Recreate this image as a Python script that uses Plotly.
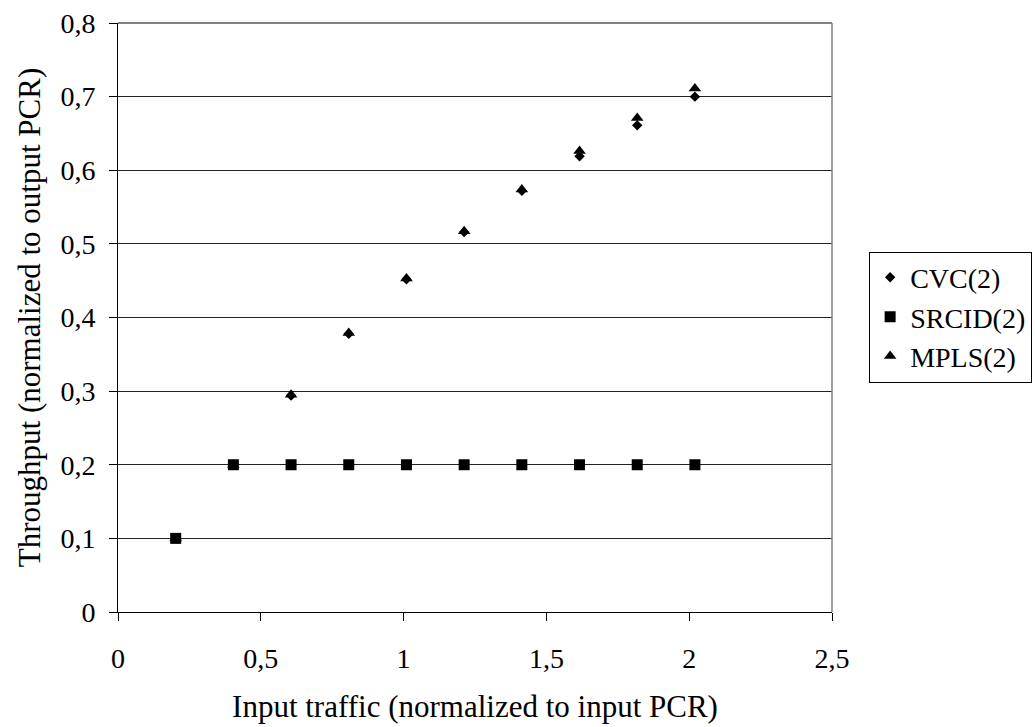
import plotly.graph_objects as go

# ---- data ----
input_traffic = [0.202, 0.404, 0.606, 0.808, 1.01, 1.212, 1.414, 1.616, 1.818, 2.02]
cvc2 = [0.1, 0.2, 0.294, 0.378, 0.452, 0.516, 0.572, 0.619, 0.661, 0.700]
srcid2 = [0.1, 0.2, 0.2, 0.2, 0.2, 0.2, 0.2, 0.2, 0.2, 0.2]
mpls2 = [0.1, 0.2, 0.295, 0.379, 0.453, 0.517, 0.574, 0.626, 0.671, 0.711]

x_tickvals = [0, 0.5, 1, 1.5, 2, 2.5]
x_ticktext = ["0", "0,5", "1", "1,5", "2", "2,5"]
y_tickvals = [0, 0.1, 0.2, 0.3, 0.4, 0.5, 0.6, 0.7, 0.8]
y_ticktext = ["0", "0,1", "0,2", "0,3", "0,4", "0,5", "0,6", "0,7", "0,8"]

FONT = "Liberation Serif"

fig = go.Figure()
fig.add_trace(go.Scatter(x=input_traffic, y=mpls2, mode="markers", name="MPLS(2)",
                         marker=dict(symbol="triangle-up", size=11, color="black"),
                         legendrank=3))
fig.add_trace(go.Scatter(x=input_traffic, y=cvc2, mode="markers", name="CVC(2)",
                         marker=dict(symbol="diamond", size=8, color="black"),
                         legendrank=1))
fig.add_trace(go.Scatter(x=input_traffic, y=srcid2, mode="markers", name="SRCID(2)",
                         marker=dict(symbol="square", size=11, color="black"),
                         legendrank=2))

axis_common = dict(
    showline=True, linecolor="black", linewidth=1,
    ticks="outside", ticklen=8, tickcolor="black", tickwidth=1,
    tickfont=dict(family=FONT, size=28, color="black"),
    zeroline=False,
)

fig.update_xaxes(range=[0, 2.5], tickvals=x_tickvals, ticktext=x_ticktext,
                 showgrid=False, ticklabelstandoff=13,
                 title=dict(text="Input traffic (normalized to input PCR)",
                            font=dict(family=FONT, size=31, color="black"), standoff=22),
                 **axis_common)
fig.update_yaxes(range=[0, 0.8], tickvals=y_tickvals, ticktext=y_ticktext,
                 showgrid=True, gridcolor="#222222", gridwidth=1, ticklabelstandoff=8,
                 title=dict(text="Throughput (normalized to output PCR)",
                            font=dict(family=FONT, size=31, color="black"), standoff=10),
                 **axis_common)

# plot-area border (top & right gray as in the original)
fig.add_shape(type="line", xref="paper", yref="paper", x0=0, x1=1, y0=1, y1=1,
              line=dict(color="#808080", width=2))
fig.add_shape(type="line", xref="paper", yref="paper", x0=1, x1=1, y0=0, y1=1,
              line=dict(color="#808080", width=1.5))

fig.update_layout(
    width=1035, height=727,
    margin=dict(l=118, r=203, t=23, b=115, autoexpand=False),
    paper_bgcolor="white", plot_bgcolor="white",
    font=dict(family=FONT, color="black"),
    showlegend=True,
    legend=dict(x=1.052, y=0.612, xanchor="left", yanchor="top",
                bgcolor="white", bordercolor="black", borderwidth=1,
                font=dict(family=FONT, size=28, color="black"),
                itemsizing="trace"),
)

fig.write_html("out.html")
